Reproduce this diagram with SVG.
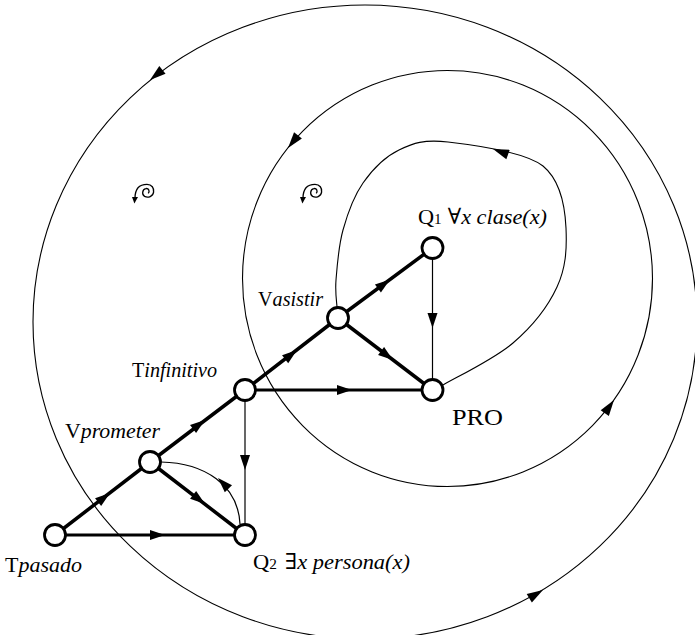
<svg xmlns="http://www.w3.org/2000/svg" width="695" height="635" viewBox="0 0 695 635">
<style>
.orbit{fill:none;stroke:#000;stroke-width:1.1}
.thick{stroke:#000;stroke-width:3.5;fill:none;stroke-linecap:round}
.med{stroke:#000;stroke-width:3;fill:none}
.thin{stroke:#000;stroke-width:1.2;fill:none}
.node circle{fill:#fff;stroke:#000;stroke-width:2.8}
.lbl{font-family:"Liberation Serif","DejaVu Serif",serif;font-size:22px;fill:#000}
.it{font-style:italic}
.sub{font-size:15px}
.curl{fill:none;stroke:#000;stroke-width:1.1}
</style>
<defs>
<path id="ah" d="M0,0 L-15,-5 L-15,5 Z" fill="#000"/>
<path id="ahs" d="M0,0 L-16,-5 L-16,5 Z" fill="#000"/>
<g id="curlsym">
<path class="curl" d="M-10,6 C-10,-2 -6,-5.5 0,-5.5 C4,-5.5 6,-2.5 5.5,1 C5,4.5 1,6 -2,4.5 C-4.5,3 -4,-1.5 -1,-2 C1.5,-2.5 2.5,0.5 1,2"/>
<path d="M-12.5,5 L-7.5,5 L-10.5,10.5 Z" fill="#000"/>
</g>
</defs>
<rect width="695" height="635" fill="#fff"/>

<g id="connectors">
<ellipse class="orbit" cx="365" cy="322" rx="332" ry="317"/>
<ellipse class="orbit" cx="447.5" cy="278.5" rx="205" ry="208"/>
<path class="orbit" d="M443,385 C454.7,378 494,359.3 513,343 C532,326.7 548.3,305.8 557,287 C565.7,268.2 567,250 566,228 C565,206 560,180 543,166 C525,152 472.3,144.8 448,142 C423.7,139.2 413.2,143.2 399,150 C384.8,156.8 372.3,169.7 363,183 C353.7,196.3 347.5,213.8 343,230 C338.5,246.2 337,267.2 336,280 C335,292.8 336.8,302.5 337,307"/>
<use href="#ahs" transform="translate(150,80) rotate(141)"/>
<use href="#ahs" transform="translate(543,590) rotate(-31)"/>
<use href="#ahs" transform="translate(288,148) rotate(128.5)"/>
<use href="#ahs" transform="translate(614,400) rotate(-54.7)"/>
<use href="#ahs" transform="translate(493,149) rotate(200)"/>

<line class="thick" x1="55" y1="535" x2="150" y2="462"/>
<use href="#ah" transform="translate(110,493) rotate(-37.5)"/>
<line class="med" x1="55" y1="535" x2="245" y2="535"/>
<use href="#ah" transform="translate(165,535)"/>
<line class="thick" x1="150" y1="462" x2="245" y2="390"/>
<use href="#ah" transform="translate(205,420) rotate(-37.2)"/>
<line class="thick" x1="245" y1="390" x2="338" y2="318"/>
<use href="#ah" transform="translate(297,350) rotate(-37.7)"/>
<line class="thick" x1="338" y1="318" x2="432.5" y2="248"/>
<use href="#ah" transform="translate(390,279.5) rotate(-36.5)"/>
<line class="thick" x1="338" y1="318" x2="432.5" y2="390"/>
<use href="#ah" transform="translate(393,360) rotate(37.3)"/>
<line class="thick" x1="150" y1="462" x2="245" y2="535"/>
<use href="#ah" transform="translate(205,504) rotate(37.5)"/>
<line class="med" x1="245" y1="390" x2="432.5" y2="390"/>
<use href="#ah" transform="translate(352,390)"/>
<line class="thin" x1="245" y1="390" x2="245" y2="535"/>
<use href="#ah" transform="translate(245,470) rotate(90)"/>
<line class="thin" x1="432.5" y1="248" x2="432.5" y2="390"/>
<use href="#ah" transform="translate(432.5,328) rotate(90)"/>
<path class="thin" d="M161,462 C205,463 238,485 240,524"/>
<use href="#ah" transform="translate(218,478) rotate(-134)"/>
</g>

<use href="#curlsym" transform="translate(147,191) scale(1.2)"/>
<use href="#curlsym" transform="translate(315,191) scale(1.2)"/>

<g id="n_tpasado" class="node">
<circle cx="55" cy="535" r="10.5"/>
<text class="lbl" x="5" y="572" textLength="77" lengthAdjust="spacingAndGlyphs">T<tspan class="it">pasado</tspan></text>
</g>
<g id="n_q2" class="node">
<circle cx="245" cy="535" r="10.5"/>
<text class="lbl" x="253" y="569" textLength="157" lengthAdjust="spacingAndGlyphs">Q<tspan class="sub">2</tspan><tspan dx="8">∃</tspan><tspan class="it">x persona(x)</tspan></text>
</g>
<g id="n_vprometer" class="node">
<circle cx="150" cy="462" r="10.5"/>
<text class="lbl" x="65" y="438" textLength="95" lengthAdjust="spacingAndGlyphs">V<tspan class="it">prometer</tspan></text>
</g>
<g id="n_tinfinitivo" class="node">
<circle cx="245" cy="390" r="10.5"/>
<text class="lbl" x="132" y="377" textLength="85" lengthAdjust="spacingAndGlyphs">T<tspan class="it">infinitivo</tspan></text>
</g>
<g id="n_vasistir" class="node">
<circle cx="338" cy="318" r="10.5"/>
<text class="lbl" x="258" y="306" textLength="65" lengthAdjust="spacingAndGlyphs">V<tspan class="it">asistir</tspan></text>
</g>
<g id="n_q1" class="node">
<circle cx="432.5" cy="248" r="10.5"/>
<text class="lbl" x="418" y="224" textLength="129" lengthAdjust="spacingAndGlyphs">Q<tspan class="sub">1</tspan><tspan dx="6">∀</tspan><tspan class="it">x clase(x)</tspan></text>
</g>
<g id="n_pro" class="node">
<circle cx="432.5" cy="390" r="10.5"/>
<text class="lbl" x="452" y="425" style="font-size:23px" textLength="51" lengthAdjust="spacingAndGlyphs">PRO</text>
</g>
</svg>
